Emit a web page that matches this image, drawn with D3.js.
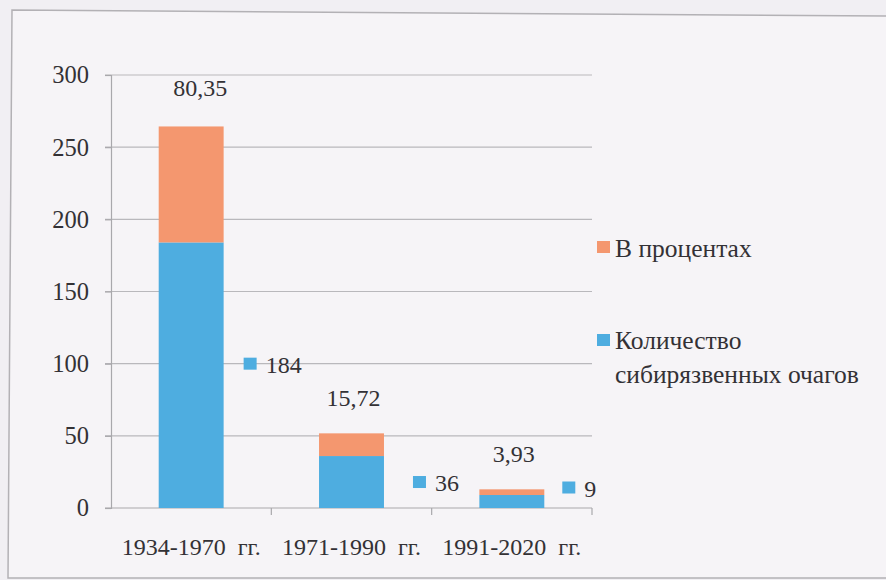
<!DOCTYPE html>
<html>
<head>
<meta charset="utf-8">
<script src="https://cdn.jsdelivr.net/npm/d3@7"></script>
<style>
  html, body { margin: 0; padding: 0; background: #f1eff3; }
  svg { display: block; }
</style>
</head>
<body>
<svg id="chart" width="886" height="580"></svg>
<script>
// ---- data ----
const categories = ["1934-1970  гг.", "1971-1990  гг.", "1991-2020  гг."];
const fociCount = [184, 36, 9];            // Количество сибирязвенных очагов
const percent = [80.35, 15.72, 3.93];      // В процентах
const percentLabels = ["80,35", "15,72", "3,93"];
const countLabels = ["184", "36", "9"];
const yTicks = [0, 50, 100, 150, 200, 250, 300];
const seriesNames = ["В процентах", "Количество", "сибирязвенных очагов"];

const colBlue = "#4eade0";
const colOrange = "#f4976f";
const FONT = "Liberation Serif";
const TXT = "#333135";

const svg = d3.select("#chart");

function styleText(sel, size) {
  return sel.attr("font-family", FONT).attr("font-size", size || 24).attr("fill", TXT);
}

// page frame
svg.append("rect").attr("width", 886).attr("height", 580).attr("fill", "#f1eff3");
svg.append("path")
  .attr("d", "M886,16 L12,10 L8,578 L886,578")
  .attr("fill", "#f6f4f7").attr("stroke", "#b3b1b5").attr("stroke-width", 1.5);

const x = d3.scaleBand().domain(categories).range([111, 592])
  .paddingInner(0.595).paddingOuter(0.2975);
const y = d3.scaleLinear().domain([0, 300]).range([508, 75]);

// gridlines
svg.append("g").selectAll("line").data(yTicks.filter(d => d > 0)).join("line")
  .attr("x1", 105).attr("x2", 592)
  .attr("y1", d => y(d)).attr("y2", d => y(d))
  .attr("stroke", "#b9b8bc").attr("stroke-width", 1.2);

// y axis
const yAxis = d3.axisLeft(y).tickValues(yTicks).tickSize(6).tickPadding(16)
  .tickFormat(d3.format("d"));
const gy = svg.append("g").attr("transform", "translate(111,0)").call(yAxis);
gy.select(".domain").attr("stroke", "#a9a8ac").attr("stroke-width", 1.2);
gy.selectAll(".tick line").attr("stroke", "#a9a8ac").attr("stroke-width", 1.2);
styleText(gy.selectAll(".tick text"), 24.5);

// x axis
const xAxis = d3.axisBottom(x).tickSize(0).tickPadding(30);
const gx = svg.append("g").attr("transform", "translate(0,508)").call(xAxis);
gx.select(".domain").attr("stroke", "#a9a8ac").attr("stroke-width", 1.2)
  .attr("d", "M105,0H592");
styleText(gx.selectAll(".tick text")).attr("xml:space", "preserve").style("white-space", "pre");
// boundary ticks between categories
const bounds = categories.map(c => x(c) + x.bandwidth() + x.step() * x.paddingInner() / 2);
gx.append("g").selectAll("line").data(bounds).join("line")
  .attr("x1", d => d).attr("x2", d => d).attr("y1", 0).attr("y2", 7)
  .attr("stroke", "#a9a8ac").attr("stroke-width", 1.2);

// bars
const bars = svg.append("g");
bars.selectAll("rect.blue").data(categories).join("rect").attr("class", "blue")
  .attr("x", c => x(c)).attr("width", x.bandwidth())
  .attr("y", (c, i) => y(fociCount[i])).attr("height", (c, i) => y(0) - y(fociCount[i]))
  .attr("fill", colBlue);
bars.selectAll("rect.orange").data(categories).join("rect").attr("class", "orange")
  .attr("x", c => x(c)).attr("width", x.bandwidth())
  .attr("y", (c, i) => y(fociCount[i] + percent[i]))
  .attr("height", (c, i) => y(fociCount[i]) - y(fociCount[i] + percent[i]))
  .attr("fill", colOrange);

// percent labels above bars
styleText(svg.append("g").selectAll("text").data(categories).join("text"))
  .attr("x", (c, i) => x(c) + x.bandwidth() / 2 + (i === 0 ? 9 : 2))
  .attr("y", (c, i) => y(fociCount[i] + percent[i]) - (i === 0 ? 30 : 27))
  .attr("text-anchor", "middle")
  .text((c, i) => percentLabels[i]);

// count labels with key, to the right of bars
const cl = svg.append("g").selectAll("g").data(categories).join("g")
  .attr("transform", (c, i) => {
    const cy = i === 0 ? y(100) : y(fociCount[i] / 2) + (i === 2 ? -14 : 0);
    const gap = [20, 29, 18][i];
    return `translate(${x(c) + x.bandwidth() + gap},${cy})`;
  });
cl.append("rect").attr("x", 0).attr("y", -6).attr("width", 13).attr("height", 12).attr("fill", colBlue);
styleText(cl.append("text")).attr("x", 22).attr("y", 9)
  .text((c, i) => countLabels[i]);

// legend
const lg = svg.append("g");
lg.append("rect").attr("x", 597).attr("y", 241).attr("width", 13).attr("height", 12).attr("fill", colOrange);
styleText(lg.append("text"), 25.5).attr("x", 615).attr("y", 257).text(seriesNames[0]);
lg.append("rect").attr("x", 597).attr("y", 334).attr("width", 13).attr("height", 12).attr("fill", colBlue);
styleText(lg.append("text"), 25.5).attr("x", 615).attr("y", 349).text(seriesNames[1]);
styleText(lg.append("text"), 25.5).attr("x", 615).attr("y", 383).text(seriesNames[2]);
</script>
</body>
</html>
